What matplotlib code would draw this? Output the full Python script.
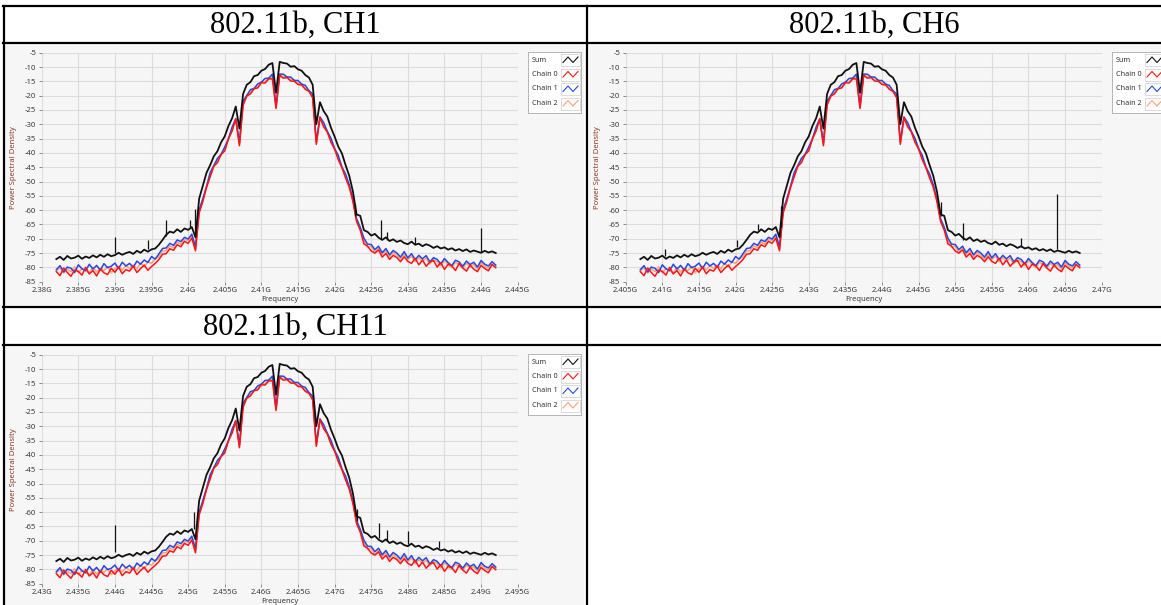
import numpy as np
import matplotlib
matplotlib.use("Agg")
import matplotlib.pyplot as plt
from matplotlib.lines import Line2D
from matplotlib.patches import Rectangle
from matplotlib.ticker import MultipleLocator, FuncFormatter

plt.rcParams['axes.unicode_minus'] = False

W, H = 1161, 605

TITLES = ["802.11b, CH1", "802.11b, CH6", "802.11b, CH11"]
CENTERS_GHZ = [2.412, 2.437, 2.462]
X_RANGES_GHZ = [(2.38, 2.445), (2.405, 2.47), (2.43, 2.495)]
Y_RANGE_DB = (-85, -5)
LEGEND_NAMES = ["Sum", "Chain 0", "Chain 1", "Chain 2"]

# sweep points, MHz from channel centre
OFFSET_MHZ = [
    -30.0, -29.5, -29.0, -28.5, -28.0, -27.5, -27.0, -26.5, -26.0, -25.5,
    -25.0, -24.5, -24.0, -23.5, -23.0, -22.5, -22.0, -21.5, -21.0, -20.5,
    -20.0, -19.5, -19.0, -18.5, -18.0, -17.5, -17.0, -16.5, -16.0, -15.5,
    -15.0, -14.5, -14.0, -13.5, -13.0, -12.5, -12.0, -11.5, -11.0, -10.5,
    -10.0, -9.5, -9.0, -8.5, -8.0, -7.5, -7.0, -6.5, -6.0, -5.5,
    -5.0, -4.5, -4.0, -3.5, -3.0, -2.5, -2.0, -1.5, -1.0, -0.5,
    0.0, 0.5, 1.0, 1.5, 2.0, 2.5, 3.0, 3.5, 4.0, 4.5,
    5.0, 5.5, 6.0, 6.5, 7.0, 7.5, 8.0, 8.5, 9.0, 9.5,
    10.0, 10.5, 11.0, 11.5, 12.0, 12.5, 13.0, 13.5, 14.0, 14.5,
    15.0, 15.5, 16.0, 16.5, 17.0, 17.5, 18.0, 18.5, 19.0, 19.5,
    20.0, 20.5, 21.0, 21.5, 22.0, 22.5, 23.0, 23.5, 24.0, 24.5,
    25.0, 25.5, 26.0, 26.5, 27.0, 27.5, 28.0, 28.5, 29.0, 29.5, 30.0,
]

SUM_DB = [
    -77.1, -76.3, -77.4, -76.0, -76.9, -76.6, -75.9, -77.0, -76.2, -76.7,
    -75.8, -76.5, -75.6, -76.3, -75.4, -76.1, -75.7, -74.9, -75.6, -75.0,
    -74.6, -75.3, -74.2, -74.9, -73.8, -74.5, -73.7, -73.4, -72.1, -70.4,
    -68.6, -67.5, -67.9, -66.7, -67.6, -66.4, -66.9, -65.9, -69.5, -56.0,
    -51.5, -47.0, -44.3, -41.2, -39.4, -36.3, -34.2, -30.6, -27.9, -23.8,
    -31.5, -19.4, -16.2, -15.3, -13.2, -12.8, -11.3, -10.7, -9.2, -8.6,
    -19.0, -8.2, -8.6, -8.8, -9.9, -9.7, -10.8, -11.3, -12.8, -13.7,
    -16.2, -30.0, -22.3, -25.4, -27.3, -31.2, -34.3, -37.8, -40.2, -44.3,
    -48.0, -53.5, -61.5, -62.0, -67.0, -67.6, -68.9, -68.3, -69.6, -70.4,
    -69.5, -70.8, -70.2, -71.1, -70.6, -71.5, -71.9, -71.0, -72.1, -71.7,
    -72.6, -71.9, -72.4, -73.2, -72.6, -73.4, -73.0, -73.8, -73.3, -74.1,
    -73.6, -74.3, -73.7, -74.6, -74.1, -74.5, -74.9, -74.2, -74.8, -74.4, -75.0,
]

CHAIN0_DB = [
    -81.5, -82.9, -80.2, -81.8, -83.1, -80.9, -81.4, -82.7, -80.0, -82.3,
    -81.1, -83.0, -80.6, -81.9, -82.5, -80.3, -81.7, -79.9, -82.2, -80.8,
    -81.3, -79.6, -81.8, -80.4, -79.2, -81.0, -79.7, -78.6, -77.3, -75.4,
    -75.2, -73.5, -74.0, -72.1, -72.8, -70.9, -71.6, -69.8, -74.2, -61.0,
    -57.0, -52.2, -48.4, -44.7, -43.4, -40.6, -39.3, -35.1, -32.4, -28.2,
    -37.5, -23.4, -20.2, -19.4, -17.6, -17.3, -15.5, -15.6, -14.2, -14.1,
    -24.5, -12.9, -13.9, -13.7, -14.9, -15.0, -16.1, -16.3, -17.8, -18.5,
    -20.8, -37.0, -27.7, -30.9, -32.7, -36.3, -38.7, -42.4, -45.2, -48.8,
    -52.0, -57.0, -64.0, -67.0, -71.8, -72.6, -74.3, -75.0, -73.9, -76.4,
    -75.1, -77.2, -75.8, -76.6, -78.0, -76.3, -77.9, -78.6, -76.8, -79.1,
    -77.4, -79.6, -78.1, -77.6, -79.9, -78.3, -80.7, -78.9, -79.4, -81.1,
    -78.6, -80.2, -81.3, -79.2, -80.6, -81.5, -79.3, -80.4, -81.2, -79.0, -80.1,
]

CHAIN1_DB = [
    -80.8, -79.4, -81.6, -79.9, -80.3, -81.8, -79.1, -80.5, -81.2, -78.9,
    -80.6, -79.3, -81.0, -78.7, -80.1, -79.6, -78.5, -80.4, -78.2, -79.5,
    -78.6, -80.0, -77.8, -78.9, -77.4, -78.3, -76.2, -77.1, -75.3, -73.4,
    -73.2, -71.6, -72.3, -70.4, -71.0, -69.5, -70.1, -68.4, -72.8, -60.0,
    -56.0, -51.8, -46.9, -44.5, -41.9, -40.5, -37.9, -35.1, -31.0, -28.1,
    -36.5, -21.9, -20.0, -17.9, -17.5, -15.9, -15.3, -14.0, -13.9, -12.5,
    -23.5, -12.5, -12.5, -13.5, -13.5, -14.7, -14.7, -16.0, -16.4, -18.3,
    -19.4, -36.0, -27.5, -29.4, -32.5, -34.9, -38.5, -40.9, -45.0, -47.4,
    -51.2, -56.2, -63.0, -66.0, -69.8, -71.9, -72.0, -73.8, -72.6, -74.9,
    -73.4, -75.6, -74.1, -75.0, -76.4, -74.5, -76.7, -75.2, -77.3, -75.8,
    -77.0, -75.9, -78.1, -76.6, -77.2, -78.8, -76.9, -78.3, -79.4, -77.5,
    -78.1, -79.6, -77.8, -79.0, -78.2, -79.9, -77.6, -78.9, -79.5, -78.0, -79.2,
]

CHAIN2_DB = [
    -81.2, -80.1, -82.0, -80.6, -81.5, -79.8, -81.9, -80.4, -81.0, -82.1,
    -79.9, -81.6, -80.2, -81.1, -79.7, -81.8, -80.5, -79.6, -80.9, -79.4,
    -80.3, -79.1, -80.5, -78.5, -79.8, -78.0, -78.6, -76.9, -76.4, -74.2,
    -74.1, -72.5, -73.1, -71.2, -71.9, -70.2, -70.6, -69.0, -73.6, -60.5,
    -56.5, -51.7, -47.9, -44.3, -42.9, -40.3, -38.9, -34.9, -31.9, -27.9,
    -37.0, -22.9, -19.8, -18.9, -17.3, -16.9, -15.1, -15.1, -13.7, -13.6,
    -24.0, -12.4, -13.5, -13.3, -14.5, -14.5, -15.7, -15.8, -17.4, -18.1,
    -20.4, -36.5, -27.3, -30.4, -32.3, -35.9, -38.3, -41.9, -44.8, -48.4,
    -51.6, -56.6, -63.5, -66.5, -70.6, -72.9, -72.6, -74.8, -73.3, -75.4,
    -74.2, -76.3, -74.8, -75.9, -77.1, -75.4, -77.2, -76.1, -78.0, -76.6,
    -77.9, -76.8, -78.8, -77.3, -78.0, -79.5, -77.6, -79.0, -80.1, -78.2,
    -79.0, -80.3, -78.5, -79.7, -79.0, -80.6, -78.3, -79.6, -80.2, -78.8, -79.7,
]

# narrow spurs on the Sum trace: (frequency GHz, trace level dB, spur top dB)
SPIKES_CH1 = [(2.3900, -75.0, -69.5), (2.3945, -73.5, -70.5), (2.3970, -69.0, -63.5),
              (2.4003, -66.0, -63.5), (2.4010, -68.0, -59.5), (2.4228, -62.0, -58.0),
              (2.4263, -70.0, -63.5), (2.4272, -70.5, -67.5), (2.4310, -72.0, -69.3),
              (2.4400, -74.5, -66.4)]
SPIKES_CH6 = [(2.4103, -76.0, -73.6), (2.4202, -73.0, -70.4), (2.4230, -67.0, -64.8),
              (2.4262, -66.0, -58.4), (2.4480, -62.0, -57.2), (2.4510, -70.5, -64.6),
              (2.4590, -73.0, -69.7), (2.4639, -73.5, -54.3)]
SPIKES_CH11 = [(2.4400, -74.0, -64.6), (2.4508, -66.0, -60.0), (2.4730, -63.0, -59.0),
               (2.4761, -69.0, -63.7), (2.4771, -70.0, -66.4), (2.4800, -71.0, -66.6),
               (2.4843, -72.5, -70.0)]
SPIKES = [SPIKES_CH1, SPIKES_CH6, SPIKES_CH11]

TRACE_COLORS = {"Sum": "#111111", "Chain 0": "#ff1414", "Chain 1": "#2448e6", "Chain 2": "#ffa078"}

# page layout in pixels
PANEL_ORIGINS = [(5, 45), (589, 45), (5, 347)]
TITLE_CENTERS = [(295, 25), (874, 25), (295, 327)]


def frect(x0, y0, w, h):
    return [x0 / W, 1 - (y0 + h) / H, w / W, h / H]


def fmt_ghz(v, pos):
    return ("%.3f" % v).rstrip("0").rstrip(".") + "G"


def draw_legend(fig, ox, oy):
    lax = fig.add_axes(frect(ox + 523, oy + 7, 53, 61))
    lax.set_xlim(0, 53)
    lax.set_ylim(61, 0)
    lax.set_xticks([])
    lax.set_yticks([])
    lax.set_facecolor("white")
    for s in lax.spines.values():
        s.set_color("#b5b5b5")
        s.set_linewidth(0.7)
    for i, name in enumerate(LEGEND_NAMES):
        yc = 8 + i * 14.5
        lax.text(3.5, yc, name, fontsize=5.2, color="#333333", va="center", ha="left",
                 family="Noto Sans")
        lax.add_patch(Rectangle((33, yc - 6), 19, 12, facecolor="white",
                                edgecolor="#d5d5d5", lw=0.6))
        lax.plot([35, 40, 45, 50], [yc + 2.5, yc - 3, yc + 2.5, yc - 3],
                 color=TRACE_COLORS[name], lw=0.8)


def draw_panel(fig, k):
    ox, oy = PANEL_ORIGINS[k]
    fig.add_artist(Rectangle((ox / W, 1 - (oy + 260) / H), 579 / W, 260 / H,
                             transform=fig.transFigure, facecolor="#f6f6f6",
                             edgecolor="none", zorder=0))
    ax = fig.add_axes(frect(ox + 36.7, oy + 7.7, 476, 229))
    ax.set_facecolor("none")
    freqs = CENTERS_GHZ[k] + np.array(OFFSET_MHZ) / 1000.0
    ax.plot(freqs, CHAIN2_DB, color=TRACE_COLORS["Chain 2"], lw=1.1, zorder=2)
    ax.plot(freqs, CHAIN1_DB, color=TRACE_COLORS["Chain 1"], lw=1.1, zorder=3)
    ax.plot(freqs, CHAIN0_DB, color=TRACE_COLORS["Chain 0"], lw=1.1, zorder=4)
    ax.plot(freqs, SUM_DB, color=TRACE_COLORS["Sum"], lw=1.3, zorder=5)
    sp = np.array(SPIKES[k])
    ax.vlines(sp[:, 0], sp[:, 1], sp[:, 2], color=TRACE_COLORS["Sum"], lw=0.9, zorder=5)

    ax.set_xlim(*X_RANGES_GHZ[k])
    ax.set_ylim(*Y_RANGE_DB)
    ax.xaxis.set_major_locator(MultipleLocator(0.005))
    ax.xaxis.set_major_formatter(FuncFormatter(fmt_ghz))
    ax.yaxis.set_major_locator(MultipleLocator(5))
    ax.grid(True, color="#dcdcdc", lw=0.8)
    ax.set_axisbelow(True)
    for s in ax.spines.values():
        s.set_visible(False)
    ax.tick_params(axis="both", length=2.5, width=0.6, color="#777777", pad=1.5,
                   labelsize=5.5, labelcolor="#3a3a3a")
    for lbl in ax.get_xticklabels() + ax.get_yticklabels():
        lbl.set_family("Noto Sans")
    ax.set_xlabel("Frequency", fontsize=5.5, color="#3a3a3a", family="Noto Sans")
    ax.xaxis.set_label_coords(0.5, -0.062)
    ax.set_ylabel("Power Spectral Density", fontsize=5.5, color="#8a3b22", family="Noto Sans")
    ax.yaxis.set_label_coords(-0.052, 0.5)

    draw_legend(fig, ox, oy)

    tx, ty = TITLE_CENTERS[k]
    fig.text(tx / W, 1 - ty / H, TITLES[k], fontsize=22, family="Liberation Serif",
             ha="center", va="center", color="black")


fig = plt.figure(figsize=(W / 100, H / 100), dpi=100)
fig.patch.set_facecolor("white")

for k in range(3):
    draw_panel(fig, k)

# table rules
for y in (6, 43, 307, 345):
    fig.add_artist(Line2D([3 / W, 1], [1 - y / H] * 2, color="black", lw=1.6,
                          transform=fig.transFigure, zorder=10))
for x in (3.5, 587):
    fig.add_artist(Line2D([x / W] * 2, [1 - 6 / H, 0], color="black", lw=1.6,
                          transform=fig.transFigure, zorder=10))

fig.savefig("out.png", dpi=100)
